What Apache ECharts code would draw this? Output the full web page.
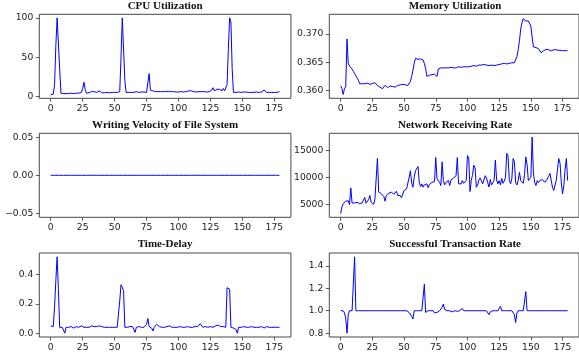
<!DOCTYPE html>
<html>
<head>
    <meta charset="utf-8">
    <script type="text/javascript" src="https://cdn.jsdelivr.net/npm/echarts@6/dist/echarts.min.js"></script>
    <title>Monitoring metrics</title>
    <style>body { margin: 0; }</style>
</head>
<body>
    <div id="container" style="width:579px;height:360px;"></div>
    <script type="text/javascript">
    // tick labels shared by every x axis
    var xTicks = [0, 25, 50, 75, 100, 125, 150, 175];

    // values, one per sample (0..179)
    var cpu = [
        2, 2, 3, 15, 65, 100, 100, 35, 4, 3.5,
        3.5, 3.5, 3.5, 3.5, 3.5, 3.5, 4, 4, 3.5, 5,
        4, 3.5, 4, 4, 5, 10, 18, 8, 4, 4,
        4.5, 5, 6, 5, 6, 6, 5, 5, 7, 4.5,
        4.5, 5, 4.5, 4.5, 5, 4.5, 4.5, 4.5, 5, 5,
        5, 5, 5, 5, 6, 50, 100, 100, 20, 5,
        4.5, 5, 6, 5, 5, 5, 5.5, 6, 8, 5,
        5, 5.5, 5, 5.5, 5, 5, 6, 29, 8, 7,
        7, 6.5, 6, 6, 6, 6, 6, 6, 6, 6,
        6, 6, 6.5, 6, 6, 5.5, 6, 6, 5.5, 6,
        5.5, 6, 6, 6, 5.5, 6, 6, 6, 7, 8,
        7, 6, 6, 6, 5.5, 6, 6, 6, 6, 6,
        6, 6, 5.5, 6, 6, 7, 8, 11, 7, 7,
        9, 7, 9, 8, 7, 10, 7, 7, 15, 60,
        100, 95, 35, 5, 5, 5, 5, 5.5, 5.5, 5,
        5.5, 5.5, 5.5, 5.5, 5, 5, 5, 5, 5, 5,
        5, 5.5, 5, 5, 5, 5.5, 7, 8, 6, 5,
        5, 5, 5.5, 5, 5, 5, 4.5, 5, 5.5, 6
    ];
    var memory = [
        0.3608, 0.3604, 0.3593, 0.3603, 0.3607, 0.3691, 0.3648, 0.3643, 0.3641, 0.3638,
        0.3634, 0.3630, 0.3626, 0.3622, 0.3618, 0.3612, 0.3612, 0.3612, 0.3613, 0.3612,
        0.3612, 0.3613, 0.3612, 0.3611, 0.3611, 0.3612, 0.3613, 0.3614, 0.3616, 0.3609,
        0.3607, 0.3606, 0.3607, 0.3603, 0.3605, 0.3609, 0.3606, 0.3605, 0.3607, 0.3608,
        0.3606, 0.3607, 0.3606, 0.3606, 0.3607, 0.3609, 0.3610, 0.3610, 0.3609, 0.3611,
        0.3610, 0.3610, 0.3609, 0.3609, 0.3611, 0.3616, 0.3625, 0.3636, 0.3648, 0.3657,
        0.3660, 0.3655, 0.3655, 0.3656, 0.3656, 0.3654, 0.3648, 0.3639, 0.3625, 0.3626,
        0.3627, 0.3628, 0.3628, 0.3629, 0.3629, 0.3629, 0.3625, 0.3638, 0.3637, 0.3640,
        0.3639, 0.3640, 0.3640, 0.3640, 0.3639, 0.3640, 0.3640, 0.3641, 0.3642, 0.3640,
        0.3641, 0.3640, 0.3641, 0.3642, 0.3642, 0.3641, 0.3642, 0.3642, 0.3641, 0.3642,
        0.3643, 0.3642, 0.3643, 0.3643, 0.3644, 0.3644, 0.3644, 0.3643, 0.3644, 0.3645,
        0.3645, 0.3645, 0.3645, 0.3646, 0.3645, 0.3645, 0.3643, 0.3644, 0.3644, 0.3645,
        0.3645, 0.3644, 0.3645, 0.3645, 0.3647, 0.3646, 0.3647, 0.3647, 0.3647, 0.3648,
        0.3648, 0.3647, 0.3648, 0.3648, 0.3648, 0.3649, 0.3648, 0.3649, 0.3649, 0.3660,
        0.3672, 0.3688, 0.3709, 0.3720, 0.3727, 0.3728, 0.3723, 0.3724, 0.3723, 0.3720,
        0.3714, 0.3694, 0.3677, 0.3676, 0.3676, 0.3676, 0.3674, 0.3671, 0.3667, 0.3668,
        0.3670, 0.3672, 0.3673, 0.3673, 0.3672, 0.3671, 0.3670, 0.3669, 0.3672, 0.3671,
        0.3672, 0.3671, 0.3671, 0.3671, 0.3671, 0.3671, 0.3670, 0.3671, 0.3671, 0.3670
    ];
    var writing = [
        0, 0, 0, 0, 0, 0, 0, 0, 0, 0,
        0, 0, 0, 0, 0, 0, 0, 0, 0, 0,
        0, 0, 0, 0, 0, 0, 0, 0, 0, 0,
        0, 0, 0, 0, 0, 0, 0, 0, 0, 0,
        0, 0, 0, 0, 0, 0, 0, 0, 0, 0,
        0, 0, 0, 0, 0, 0, 0, 0, 0, 0,
        0, 0, 0, 0, 0, 0, 0, 0, 0, 0,
        0, 0, 0, 0, 0, 0, 0, 0, 0, 0,
        0, 0, 0, 0, 0, 0, 0, 0, 0, 0,
        0, 0, 0, 0, 0, 0, 0, 0, 0, 0,
        0, 0, 0, 0, 0, 0, 0, 0, 0, 0,
        0, 0, 0, 0, 0, 0, 0, 0, 0, 0,
        0, 0, 0, 0, 0, 0, 0, 0, 0, 0,
        0, 0, 0, 0, 0, 0, 0, 0, 0, 0,
        0, 0, 0, 0, 0, 0, 0, 0, 0, 0,
        0, 0, 0, 0, 0, 0, 0, 0, 0, 0,
        0, 0, 0, 0, 0, 0, 0, 0, 0, 0,
        0, 0, 0, 0, 0, 0, 0, 0, 0, 0
    ];
    var network = [
        3330, 4550, 5150, 5450, 5600, 5600, 5700, 5000, 8060, 5270,
        5450, 5300, 5600, 5400, 5300, 5150, 5500, 5300, 5600, 6300,
        5240, 5600, 5900, 6670, 5450, 5600, 5030, 5880, 6200, 13500,
        7270, 7100, 7000, 7000, 6500, 5600, 6670, 6480, 7090, 6800,
        7270, 7000, 6900, 7100, 7450, 6670, 6970, 6670, 6240, 6360,
        7600, 7700, 7880, 7580, 10000, 11200, 9000, 8180, 10000, 11200,
        11500, 12000, 9100, 8300, 8800, 8200, 8600, 8300, 8800, 8100,
        8670, 8800, 9090, 8790, 9200, 13640, 9700, 10000, 9090, 8480,
        12850, 9400, 8600, 9090, 8790, 9400, 8480, 9520, 9700, 9880,
        9700, 10300, 13640, 8800, 9100, 8800, 9400, 8900, 9100, 9400,
        14000, 13600, 7400, 9400, 10500, 12240, 11800, 8180, 8600, 9500,
        9900, 10100, 8800, 8500, 10300, 9900, 9000, 8200, 9600, 8600,
        9000, 9400, 13150, 9500, 8800, 9400, 8600, 9800, 8900, 9300,
        10000, 14420, 13900, 9400, 8800, 9800, 13460, 12900, 9000, 8600,
        9400, 10900, 9400, 9100, 8900, 10500, 13760, 12400, 9400, 9100,
        10000, 17400, 10800, 9100, 8500, 9400, 9000, 9400, 9300, 9600,
        9400, 9090, 9400, 9700, 10200, 10730, 9500, 8200, 7580, 7800,
        9400, 11500, 13460, 12600, 9000, 6970, 8500, 11500, 13460, 9400
    ];
    var delay = [
        0.05, 0.04, 0.045, 0.18, 0.36, 0.52, 0.30, 0.04, 0.045, 0.04,
        0.04, 0.0, 0.04, 0.045, 0.04, 0.04, 0.045, 0.04, 0.035, 0.04,
        0.045, 0.04, 0.04, 0.045, 0.05, 0.055, 0.04, 0.035, 0.04, 0.045,
        0.04, 0.045, 0.05, 0.045, 0.045, 0.05, 0.045, 0.04, 0.05, 0.05,
        0.045, 0.04, 0.04, 0.045, 0.04, 0.04, 0.04, 0.045, 0.04, 0.04,
        0.04, 0.04, 0.04, 0.05, 0.22, 0.33, 0.325, 0.29, 0.04, 0.045,
        0.04, 0.04, 0.045, 0.04, 0.045, 0.05, 0.005, 0.04, 0.04, 0.045,
        0.04, 0.04, 0.045, 0.04, 0.045, 0.06, 0.10, 0.045, 0.055, 0.035,
        0.015, 0.04, 0.045, 0.06, 0.05, 0.045, 0.045, 0.04, 0.045, 0.04,
        0.04, 0.045, 0.04, 0.05, 0.045, 0.04, 0.03, 0.04, 0.045, 0.04,
        0.04, 0.045, 0.04, 0.04, 0.045, 0.04, 0.04, 0.045, 0.04, 0.04,
        0.045, 0.04, 0.04, 0.045, 0.04, 0.045, 0.055, 0.065, 0.065, 0.04,
        0.04, 0.045, 0.035, 0.04, 0.04, 0.045, 0.04, 0.04, 0.045, 0.05,
        0.055, 0.055, 0.05, 0.045, 0.04, 0.045, 0.04, 0.04, 0.31, 0.305,
        0.30, 0.04, 0.045, 0.035, 0.045, 0.025, 0.0, 0.04, 0.045, 0.04,
        0.04, 0.045, 0.04, 0.04, 0.045, 0.04, 0.04, 0.045, 0.035, 0.04,
        0.045, 0.04, 0.045, 0.04, 0.045, 0.045, 0.04, 0.035, 0.04, 0.045,
        0.045, 0.04, 0.045, 0.04, 0.045, 0.04, 0.05, 0.04, 0.04, 0.04
    ];
    var success = [
        1, 1, 1, 0.98, 0.935, 0.80, 0.965, 1, 1, 1,
        1, 1.48, 1, 1, 1, 1, 1, 1, 1, 1,
        1, 1, 1, 1, 1, 1, 1, 1, 1, 1,
        1, 1, 1, 1, 1, 1, 1, 1, 1, 1,
        1, 1, 1, 1, 1, 1, 1, 1, 1, 1,
        1, 1, 1, 1, 0.985, 0.97, 0.95, 0.926, 1, 1,
        1, 1, 1, 1, 1, 1, 1.235, 0.985, 1, 1,
        1, 1, 1, 1, 0.98, 0.99, 0.985, 1, 1, 1.01,
        1.03, 1.06, 1.01, 0.995, 1, 1, 1, 1, 0.99, 1,
        1, 1, 0.995, 1.01, 1, 1.01, 1.02, 1, 1, 1,
        1, 1, 1, 1, 1, 1, 1, 1, 1, 1,
        1, 1, 1, 1, 1, 1, 0.99, 0.965, 0.99, 1,
        1, 1, 1, 1, 1, 1.01, 1.04, 1, 1, 1,
        1, 1, 1, 1, 1, 1, 1, 0.965, 0.895, 0.98,
        1, 1, 1, 1, 1, 1, 1.17, 1, 1, 1,
        1, 1, 1, 1, 1, 1, 1, 1, 1, 1,
        1, 1, 1, 1, 1, 1, 1, 1, 1, 1,
        1, 1, 1, 1, 1, 1, 1, 1, 1, 1
    ];

    // one entry per panel: title, values, y range, y tick labels, label decimals
    var panels = [
        { title: 'CPU Utilization', data: cpu, min: -2.5, max: 104.6, ticks: [0, 50, 100], dec: 0 },
        { title: 'Memory Utilization', data: memory, min: 0.35862, max: 0.37348, ticks: [0.360, 0.365, 0.370], dec: 3 },
        { title: 'Writing Velocity of File System', data: writing, min: -0.055, max: 0.055, ticks: [-0.05, 0, 0.05], dec: 2 },
        { title: 'Network Receiving Rate', data: network, min: 2650, max: 18100, ticks: [5000, 10000, 15000], dec: 0 },
        { title: 'Time-Delay', data: delay, min: -0.026, max: 0.546, ticks: [0, 0.2, 0.4], dec: 1 },
        { title: 'Successful Transaction Rate', data: success, min: 0.766, max: 1.514, ticks: [0.8, 1.0, 1.2, 1.4], dec: 1 }
    ];

    var colLeft = [39.3, 329.3];
    var rowTop = [14.3, 133.3, 253];
    var gridW = 251.6, gridH = 84;

    var labelStyle = { fontFamily: 'DejaVu Sans', fontSize: 9.2, color: '#222' };
    var tickStyle = { show: true, inside: false, length: 3.5, lineStyle: { color: '#333', width: 0.8 } };

    var grids = [], xAxes = [], yAxes = [], titles = [], series = [];
    panels.forEach(function (p, k) {
        var col = k % 2, row = Math.floor(k / 2);
        grids.push({
            left: colLeft[col], top: rowTop[row], width: gridW, height: gridH,
            show: true, borderColor: '#333', borderWidth: 0.9, backgroundColor: 'transparent'
        });
        titles.push({
            text: p.title,
            left: colLeft[col] + gridW / 2, top: rowTop[row] - 14,
            padding: 0,
            textAlign: 'center',
            textStyle: { fontFamily: 'Liberation Serif', fontWeight: 'bold', fontSize: 11, color: '#111' }
        });
        xAxes.push({
            type: 'value', gridIndex: k, min: -8.95, max: 187.95, position: 'bottom',
            axisLine: { show: false, onZero: false },
            splitLine: { show: false },
            axisTick: Object.assign({ customValues: xTicks }, tickStyle),
            axisLabel: Object.assign({ customValues: xTicks, margin: 6 }, labelStyle)
        });
        yAxes.push({
            type: 'value', gridIndex: k, min: p.min, max: p.max, position: 'left',
            axisLine: { show: false, onZero: false },
            splitLine: { show: false },
            axisTick: Object.assign({ customValues: p.ticks }, tickStyle),
            axisLabel: Object.assign({
                customValues: p.ticks, margin: 6,
                formatter: function (v) {
                    var s = Number(v).toFixed(p.dec);
                    return s.charAt(0) === '-' ? '\u2212' + s.slice(1) : s;
                }
            }, labelStyle)
        });
        series.push({
            type: 'line', xAxisIndex: k, yAxisIndex: k,
            data: p.data.map(function (v, i) { return [i, v]; }),
            showSymbol: false, symbol: 'none',
            lineStyle: { color: '#0000ff', width: 1 },
            silent: true
        });
    });

    var myChart = echarts.init(document.getElementById('container'));
    myChart.setOption({
        animation: false,
        backgroundColor: '#fff',
        title: titles,
        grid: grids,
        xAxis: xAxes,
        yAxis: yAxes,
        series: series
    });
    </script>
</body>
</html>
